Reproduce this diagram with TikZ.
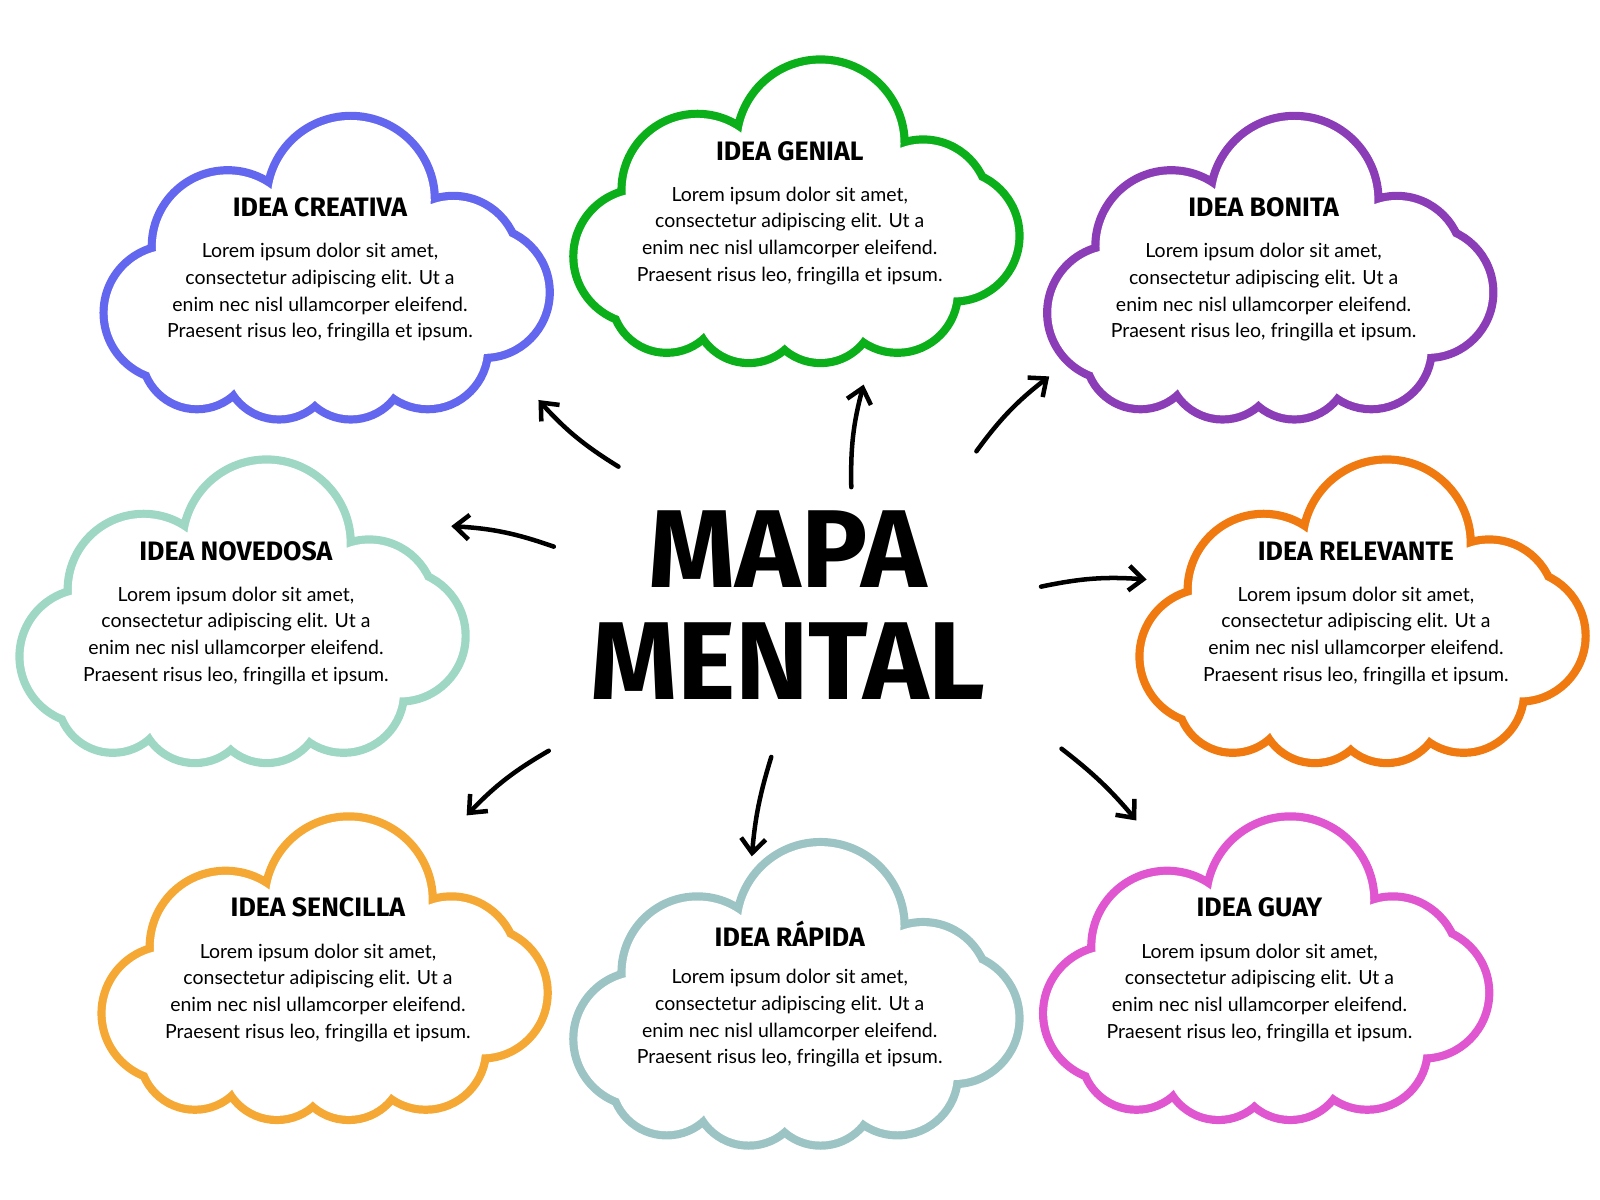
\documentclass[tikz,border=0pt]{standalone}
\usepackage{fontspec}
\setmainfont{Lato}
\newfontfamily\titlefont{Fira Sans}
\usetikzlibrary{arrows.meta}
\definecolor{cblue}{HTML}{6366EE}
\definecolor{cgreen}{HTML}{0AAF1A}
\definecolor{cpurple}{HTML}{8B3DB8}
\definecolor{cmint}{HTML}{9ED8C4}
\definecolor{corange}{HTML}{F07A10}
\definecolor{cyellow}{HTML}{F5A833}
\definecolor{cteal}{HTML}{9DC4C4}
\definecolor{cmagenta}{HTML}{E055D0}
\tikzset{
  ctitle/.style={font=\titlefont\fontsize{13}{15}\selectfont\bfseries},
  cbody/.style={font=\fontsize{9.5}{13}\selectfont, align=center},
  arr/.style={line width=2.2pt, -{Straight Barb[length=7pt,width=12pt,line width=2.2pt]}, line cap=round},
}
\newcommand\mycloud[5]{%
\begin{scope}[shift={(#2,#3)}]
\draw[line width=8pt,#4] (24,-66) circle (78) (-96,-21) circle (70) (-151,44) circle (62) (124,-6) circle (60) (154,24) circle (60) (-126,84) circle (50) (-46,94) circle (50) (24,94) circle (50) (99,79) circle (55);
\fill[white,nonzero rule] (24,-66) circle (78) (-96,-21) circle (70) (-151,44) circle (62) (124,-6) circle (60) (154,24) circle (60) (-126,84) circle (50) (-46,94) circle (50) (24,94) circle (50) (99,79) circle (55);
\fill[white] (-140,-30) rectangle (140,90);
\node[ctitle] (#1t) at (-6,-59) {#5};
\node[cbody] (#1b) at (-6,24) {Lorem ipsum dolor sit amet,\\consectetur adipiscing elit. Ut a\\enim nec nisl ullamcorper eleifend.\\Praesent risus leo, fringilla et ipsum.};
\end{scope}}
\begin{document}
\begin{tikzpicture}[x=0.5pt,y=-0.5pt]
\useasboundingbox (0,0) rectangle (1560,1170);
\mycloud{creativa}{318}{261}{cblue}{IDEA CREATIVA}
\mycloud{genial}{776}{206}{cgreen}{IDEA GENIAL}
\mycloud{bonita}{1238}{261}{cpurple}{IDEA BONITA}
\mycloud{novedosa}{236}{596}{cmint}{IDEA NOVEDOSA}
\mycloud{relevante}{1328}{596}{corange}{IDEA RELEVANTE}
\mycloud{sencilla}{316}{944}{cyellow}{IDEA SENCILLA}
\mycloud{rapida}{776}{969}{cteal}{IDEA RÁPIDA}
\mycloud{guay}{1234}{944}{cmagenta}{IDEA GUAY}
\node[font=\titlefont\fontsize{54}{56}\selectfont\bfseries] (mapa) at (768,535) {MAPA};
\node[font=\titlefont\fontsize{54}{56}\selectfont\bfseries] (mental) at (768,645) {MENTAL};
\coordinate (a1) at (603,455); \coordinate (b1) at (525,390);
\coordinate (a2) at (830,475); \coordinate (b2) at (842,375);
\coordinate (a3) at (952,440); \coordinate (b3) at (1023,367);
\coordinate (a4) at (540,533); \coordinate (b4) at (440,513);
\coordinate (a5) at (1015,572); \coordinate (b5) at (1118,565);
\coordinate (a6) at (535,732); \coordinate (b6) at (455,795);
\coordinate (a7) at (752,738); \coordinate (b7) at (733,835);
\coordinate (a8) at (1035,730); \coordinate (b8) at (1108,800);
\draw[arr] (a1) to[bend left=8] (b1);
\draw[arr] (a2) to[bend left=8] (b2);
\draw[arr] (a3) to[bend left=8] (b3);
\draw[arr] (a4) to[bend right=8] (b4);
\draw[arr] (a5) to[bend left=8] (b5);
\draw[arr] (a6) to[bend right=8] (b6);
\draw[arr] (a7) to[bend right=6] (b7);
\draw[arr] (a8) to[bend left=6] (b8);
\end{tikzpicture}
\end{document}
